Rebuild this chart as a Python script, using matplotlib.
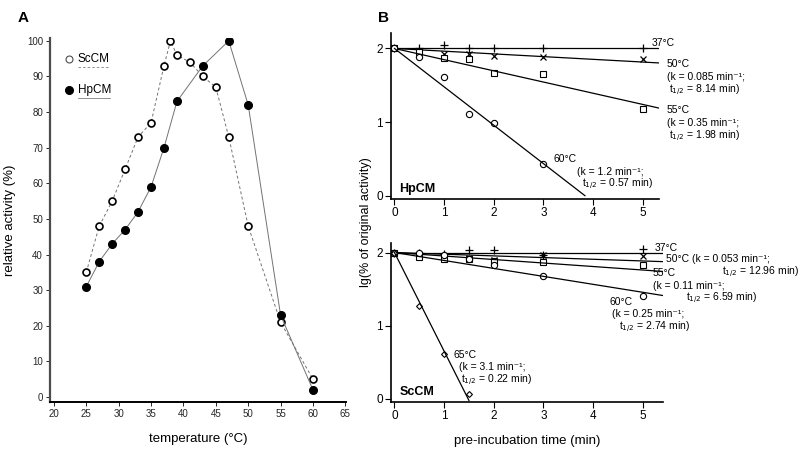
import numpy as np
import matplotlib
matplotlib.use("Agg")
import matplotlib.pyplot as plt

plt.rcParams['font.family'] = ['Liberation Sans', 'DejaVu Sans']

# panel A: relative activity vs temperature
sc_temp = [25, 27, 29, 31, 33, 35, 37, 38, 39, 41, 43, 45, 47, 50, 55, 60]
sc_act = [35, 48, 55, 64, 73, 77, 93, 100, 96, 94, 90, 87, 73, 48, 21, 5]
hp_temp = [25, 27, 29, 31, 33, 35, 37, 39, 43, 47, 50, 55, 60]
hp_act = [31, 38, 43, 47, 52, 59, 70, 83, 93, 100, 82, 23, 2]

# panel B: lg(% of original activity) vs pre-incubation time
times = [0, 0.5, 1, 1.5, 2, 3, 5]
hp_series = {
    '37': [2.0, 2.0, 2.05, 2.0, 2.01, 2.0, 2.01],
    '50': [2.0, 1.97, 1.92, 1.92, 1.90, 1.89, 1.86],
    '55': [2.0, 1.95, 1.87, 1.86, 1.665, 1.656, 1.18],
    '60': [2.0, 1.88, 1.61, 1.107, 0.993, 0.427],
}
hp_k = {'37': 0.0, '50': 0.085, '55': 0.35, '60': 1.2}

sc_series = {
    '37': [2.0, 2.0, 1.98, 2.03, 2.03, 1.96, 2.045],
    '50': [2.0, 1.96, 1.94, 1.93, 1.90, 1.96, 1.95],
    '55': [2.0, 1.94, 1.91, 1.91, 1.89, 1.87, 1.83],
    '60': [2.0, 1.99, 1.96, 1.91, 1.83, 1.68, 1.40],
    '65': [2.0, 1.27, 0.62, 0.07],
}
sc_k = {'37': 0.0, '50': 0.053, '55': 0.11, '60': 0.25, '65': 3.1}

markers = {'37': dict(marker='+', ms=6, mew=0.9),
           '50': dict(marker='x', ms=4.5, mew=0.9),
           '55': dict(marker='s', ms=4.5, mew=0.8, mfc='white'),
           '60': dict(marker='o', ms=4.5, mew=0.8, mfc='white'),
           '65': dict(marker='D', ms=3, mew=0.8, mfc='white')}

fig = plt.figure(figsize=(8, 4.5), dpi=100)


def px_axes(l, t, r, b):
    return fig.add_axes([l / 800, 1 - b / 450, (r - l) / 800, (b - t) / 450])


# ---- panel A
axA = px_axes(50, 38, 346, 402)
axA.plot(sc_temp, sc_act, ls=(0, (3, 2.5)), color='0.45', lw=0.7, marker='o',
         ms=5, mfc='white', mec='black', mew=1.2)
axA.plot(hp_temp, hp_act, ls='-', color='0.45', lw=0.7, marker='o',
         ms=5.5, mfc='black', mec='black')
axA.set_xlim(19.4, 65.1)
axA.set_ylim(-1.4, 100.8)
axA.set_xticks(range(20, 66, 5))
axA.set_yticks(range(0, 101, 10))
for s in ['top', 'right']:
    axA.spines[s].set_visible(False)
axA.spines['left'].set_linewidth(1.6)
axA.spines['left'].set_color('0.3')
axA.spines['bottom'].set_linewidth(1.4)
axA.tick_params(labelsize=7, length=3, width=0.7, pad=2, colors='0.15')
axA.set_xlabel('temperature (°C)', fontsize=9.5, labelpad=10)
axA.set_ylabel('relative activity (%)', fontsize=9.5, labelpad=8)

# legend drawn by hand
tr = axA.transAxes
axA.plot([0.064], [0.942], 'o', ms=5, mfc='white', mec='0.3', mew=0.8, transform=tr)
axA.text(0.094, 0.942, 'ScCM', fontsize=8.5, va='center', transform=tr)
axA.plot([0.094, 0.203], [0.921, 0.921], ls=(0, (3, 2.5)), color='0.5', lw=0.6, transform=tr)
axA.plot([0.064], [0.857], 'o', ms=5.5, mfc='black', mec='black', transform=tr)
axA.text(0.094, 0.857, 'HpCM', fontsize=8.5, va='center', transform=tr)
axA.plot([0.094, 0.203], [0.835, 0.835], ls='-', color='0.5', lw=0.6, transform=tr)

fig.text(18 / 800, 1 - 18 / 450, 'A', fontsize=11, fontweight='bold', va='center')
fig.text(378 / 800, 1 - 18 / 450, 'B', fontsize=11, fontweight='bold', va='center')


def kinetic(ax, series, ks, xmax, name):
    for key, vals in series.items():
        ax.plot(times[:len(vals)], vals, ls='none', color='black', mec='black', **markers[key])
        slope = -ks[key] / np.log(10)
        if key == '60' and name == 'HpCM':
            xe = 2.0 / -slope
        elif key == '65':
            xe = times[len(vals) - 1]
        else:
            xe = xmax
        ax.plot([0, xe], [2, 2 + slope * xe], color='black', lw=0.9)
    ax.set_xlim(-0.07, xmax)
    ax.set_xticks(range(6))
    ax.set_yticks([0, 1, 2])
    for s in ['top', 'right']:
        ax.spines[s].set_visible(False)
    ax.spines['left'].set_linewidth(1.2)
    ax.spines['bottom'].set_linewidth(1.2)
    ax.tick_params(labelsize=8.5, length=4, width=0.8, pad=2)
    ax.text(0.03, 0.04, name, transform=ax.transAxes, fontsize=9, fontweight='bold')


def ftext(x, y, s):
    fig.text(x / 800, 1 - y / 450, s, fontsize=7.5, va='center')


# ---- panel B top (HpCM)
axB1 = px_axes(391, 33, 659, 199)
kinetic(axB1, hp_series, hp_k, 5.33, 'HpCM')
axB1.set_ylim(-0.045, 2.21)

ftext(652, 42.7, '37°C')
ftext(667, 64, '50°C')
ftext(667, 77, '(k = 0.085 min⁻¹;')
ftext(669, 90, 't$_{1/2}$ = 8.14 min)')
ftext(667, 110, '55°C')
ftext(667, 123, '(k = 0.35 min⁻¹;')
ftext(669, 136, 't$_{1/2}$ = 1.98 min)')
ftext(554, 159, '60°C')
ftext(577, 171.5, '(k = 1.2 min⁻¹;')
ftext(582, 184.5, 't$_{1/2}$ = 0.57 min)')

# ---- panel B bottom (ScCM)
axB2 = px_axes(391, 243, 663, 401.7)
kinetic(axB2, sc_series, sc_k, 5.41, 'ScCM')
axB2.set_ylim(-0.037, 2.13)
axB2.set_xlabel('pre-incubation time (min)', fontsize=9.5, labelpad=9)

ftext(655, 247.7, '37°C')
ftext(666, 259, '50°C (k = 0.053 min⁻¹;')
ftext(722, 272.3, 't$_{1/2}$ = 12.96 min)')
ftext(653, 273.3, '55°C')
ftext(653, 285.7, '(k = 0.11 min⁻¹;')
ftext(686, 298.3, 't$_{1/2}$ = 6.59 min)')
ftext(610, 301.7, '60°C')
ftext(612, 314, '(k = 0.25 min⁻¹;')
ftext(619, 327.7, 't$_{1/2}$ = 2.74 min)')
ftext(453, 355, '65°C')
ftext(459, 366.7, '(k = 3.1 min⁻¹;')
ftext(461, 380, 't$_{1/2}$ = 0.22 min)')

fig.text(366 / 800, 1 - 222 / 450, 'lg(% of original activity)', fontsize=9,
         rotation=90, ha='center', va='center')

fig.savefig('out.png', dpi=100)
